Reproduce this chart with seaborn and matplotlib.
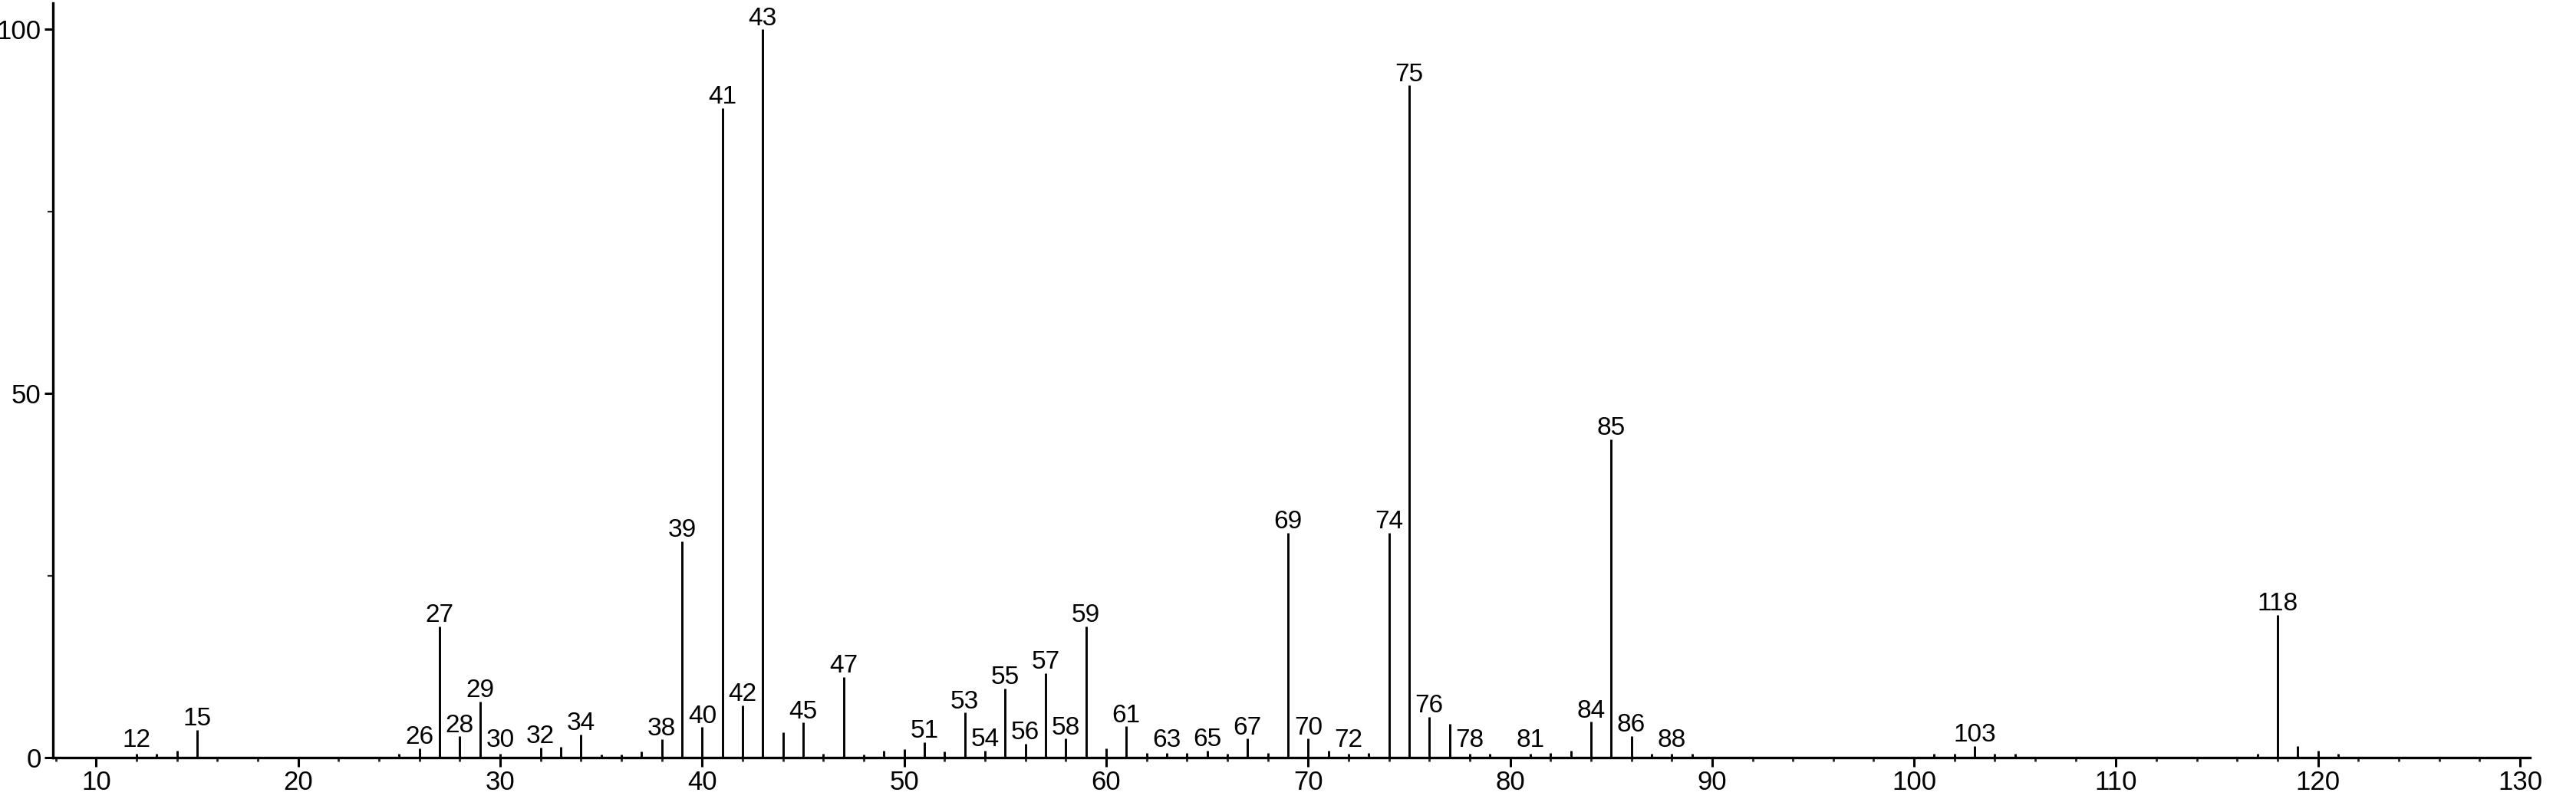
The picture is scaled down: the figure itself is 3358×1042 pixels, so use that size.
import matplotlib
matplotlib.use("Agg")
import matplotlib.pyplot as plt
from matplotlib import font_manager
import seaborn as sns
import pandas as pd
from matplotlib.ticker import MultipleLocator

mz = [12, 13, 14, 15, 25, 26, 27, 28, 29, 30, 32, 33, 34, 35, 36, 37, 38, 39, 40,
      41, 42, 43, 44, 45, 46, 47, 48, 49, 50, 51, 52, 53, 54, 55, 56, 57, 58, 59, 60,
      61, 62, 63, 64, 65, 66, 67, 68, 69, 70, 71, 72, 73, 74, 75, 76, 77, 78, 79, 81, 82,
      83, 84, 85, 86, 87, 88, 89, 101, 102, 103, 104, 105, 117, 118, 119, 120, 121]
intensity = [0.5, 0.5, 1.0, 3.8, 0.5, 1.3, 18.0, 2.9, 7.7, 0.5, 1.4, 1.5, 3.2, 0.4, 0.4, 0.85, 2.5, 29.7, 4.2,
             89.2, 7.2, 100.0, 3.5, 4.8, 0.5, 11.1, 0.4, 0.9, 1.2, 2.1, 0.8, 6.2, 1.0, 9.5, 1.9, 11.6, 2.6, 18.0, 1.25,
             4.3, 0.6, 0.6, 0.6, 1.0, 0.5, 2.6, 0.6, 30.9, 2.6, 0.95, 0.5, 0.6, 30.9, 92.3, 5.6, 4.6, 0.5, 0.5, 0.5, 0.6,
             1.0, 4.9, 43.7, 3.0, 0.5, 0.5, 0.5, 0.55, 0.5, 1.6, 0.5, 0.5, 0.5, 19.6, 1.6, 0.9, 0.5]
labeled = [12, 15, 26, 27, 28, 29, 30, 32, 34, 38, 39, 40, 41, 42, 43, 45, 47, 51, 53, 54,
           55, 56, 57, 58, 59, 61, 63, 65, 67, 69, 70, 72, 74, 75, 76, 78, 81, 84, 85, 86, 88,
           103, 118]
x_ticks = [10, 20, 30, 40, 50, 60, 70, 80, 90, 100, 110, 120, 130]
y_ticks = [0, 50, 100]

sns.set_theme(style="ticks")
names = {f.name for f in font_manager.fontManager.ttflist}
fam = [f for f in ["Liberation Sans", "DejaVu Sans"] if f in names]
plt.rcParams['font.family'] = fam

df = pd.DataFrame({"mz": mz, "intensity": intensity})

fig = plt.figure(figsize=(33.58, 10.42), dpi=100)
ax = fig.add_axes([0.0205, 0.0518, 0.9617, 0.9443])

ax.vlines(df["mz"], 0, df["intensity"], color="black", linewidth=2.1)

lab = df[df["mz"].isin(labeled)]
for m, h in zip(lab["mz"], lab["intensity"]):
    ax.annotate(str(m), xy=(m, max(h, 0.85)), xytext=(0, -1), textcoords="offset points",
                ha="center", va="bottom", fontsize=24, color="black", annotation_clip=False)

ax.set_xlim(7.85, 130.5)
ax.set_ylim(0, 103.6)
ax.set_xticks(x_ticks)
ax.set_yticks(y_ticks)
ax.xaxis.set_minor_locator(MultipleLocator(2))
ax.yaxis.set_minor_locator(MultipleLocator(25))
ax.tick_params(axis="x", which="major", direction="out", length=8.6, width=2.2,
               labelsize=25, pad=3, colors="black")
ax.tick_params(axis="x", which="minor", direction="out", length=3.8, width=2.0)
ax.tick_params(axis="y", which="major", direction="out", length=8.0, width=2.2,
               labelsize=25, pad=3, colors="black")
ax.tick_params(axis="y", which="minor", direction="out", length=5, width=1.6)
sns.despine(ax=ax)
for s in ["left", "bottom"]:
    ax.spines[s].set_linewidth(2.4)
    ax.spines[s].set_color("black")
ax.set_xlabel("")
ax.set_ylabel("")

fig.savefig("out.png", dpi=100, facecolor="white")
